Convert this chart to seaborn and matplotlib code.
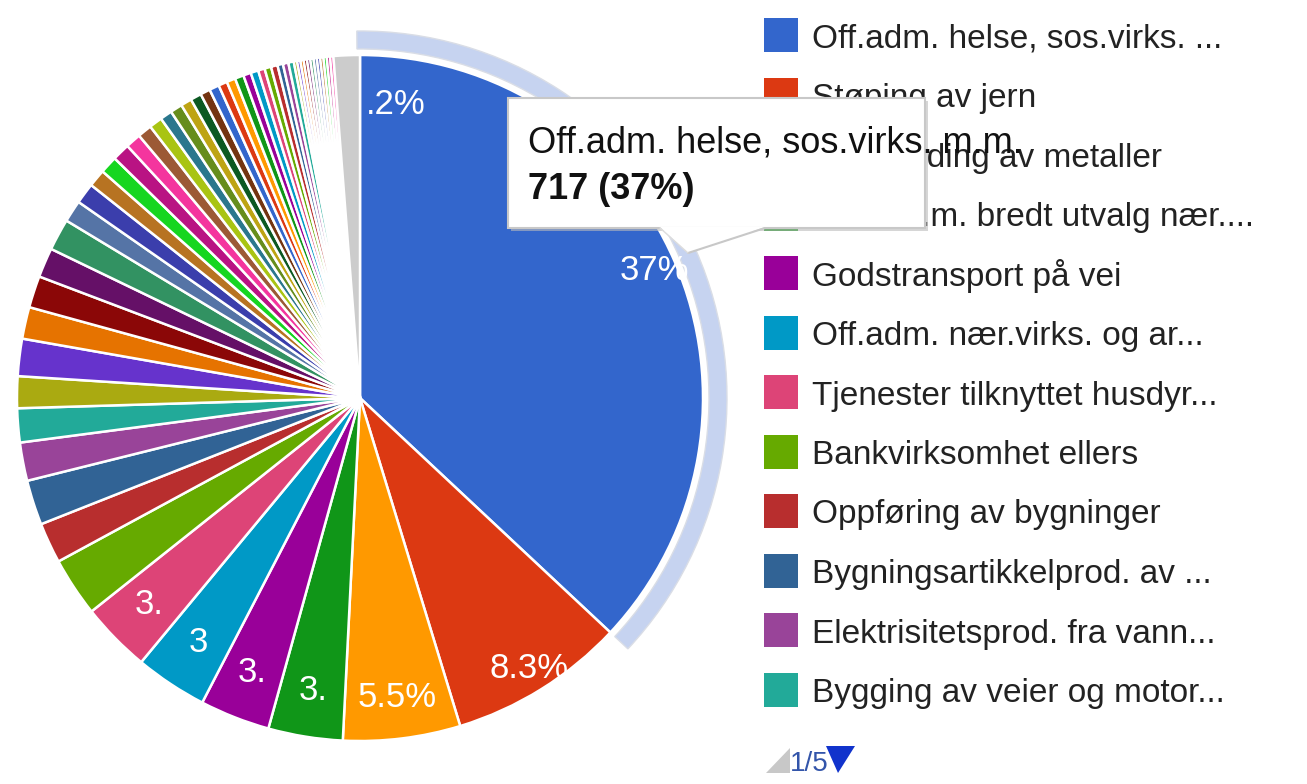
import numpy as np
import matplotlib
matplotlib.use("Agg")
import matplotlib.pyplot as plt
from matplotlib.patches import Wedge, Rectangle, Polygon
import seaborn as sns

# ---------------- data ----------------
slice_values = [717, 161, 107, 68, 64, 66, 64,
                54, 37, 41, 35, 31, 29, 34, 29, 29, 27, 29, 20, 19, 16, 16, 16,
                14, 13, 12, 11, 11, 10, 10, 9, 9, 8, 8, 8, 7, 7, 6, 6, 6, 5, 5, 5,
                3, 3, 3, 3, 3, 3, 3, 3, 3, 3, 3, 3,
                24]
slice_labels = ["37%", "8.3%", "5.5%", "3.", "3.", "3", "3."]
other_label = ".2%"
legend_labels = [
    "Off.adm. helse, sos.virks. ...",
    "Støping av jern",
    "Bearbeiding av metaller",
    "Butikkh.m. bredt utvalg nær....",
    "Godstransport på vei",
    "Off.adm. nær.virks. og ar...",
    "Tjenester tilknyttet husdyr...",
    "Bankvirksomhet ellers",
    "Oppføring av bygninger",
    "Bygningsartikkelprod. av ...",
    "Elektrisitetsprod. fra vann...",
    "Bygging av veier og motor...",
]
tooltip_title = "Off.adm. helse, sos.virks. m.m."
tooltip_value = "717 (37%)"
page_text = "1/5"

google = ["#3366cc", "#dc3912", "#ff9900", "#109618", "#990099", "#0099c6",
          "#dd4477", "#66aa00", "#b82e2e", "#316395", "#994499", "#22aa99",
          "#aaaa11", "#6633cc", "#e67300", "#8b0707", "#651067", "#329262",
          "#5574a6", "#3b3eac", "#b77322", "#16d620", "#b91383", "#f4359e",
          "#9c5935", "#a9c413", "#2a778d", "#668d1c", "#bea413", "#0c5922",
          "#743411"]

# ---------------- style ----------------
sns.set_theme(style="white")
plt.rcParams["font.family"] = ["Liberation Sans", "DejaVu Sans"]

W, H = 1307, 784
fig = plt.figure(figsize=(W / 100, H / 100), dpi=100)
ax = fig.add_axes([0, 0, 1, 1])

def Y(y):
    return H - y

cx, cy, R = 360, Y(398), 343
n = len(slice_values)
palette = sns.color_palette(google, n_colors=len(google))
colors = [palette[i % len(google)] for i in range(n - 1)] + ["#cccccc"]

wedges, _ = ax.pie(slice_values, colors=colors, startangle=90, counterclock=False,
                   radius=R, center=(cx, cy),
                   wedgeprops=dict(edgecolor="white", linewidth=1.8))
ax.set_xlim(0, W)
ax.set_ylim(0, H)
ax.set_aspect("equal")
ax.axis("off")

# hover highlight ring on the first slice
w0 = wedges[0]
ax.add_patch(Wedge((cx, cy), R + 24, w0.theta1, w0.theta2 + 0.5, width=18,
                   facecolor="#c6d3f0", edgecolor="#d9dde6", linewidth=1.0, zorder=3))

# slice labels
label_rfrac = [0.935, 0.93, 0.88, 0.865, 0.86, 0.855, 0.86]
for w, lab, rf in zip(wedges, slice_labels, label_rfrac):
    a = np.deg2rad((w.theta1 + w.theta2) / 2)
    ax.text(cx + rf * R * np.cos(a), cy + rf * R * np.sin(a), lab,
            color="white", fontsize=25, ha="center", va="center", zorder=5)
a = np.deg2rad(w0.theta2)
ax.text(cx + 0.855 * R * np.cos(a) + 6, cy + 0.855 * R * np.sin(a), other_label,
        color="white", fontsize=25, ha="left", va="center", zorder=5)

# legend (page 1)
for i, lab in enumerate(legend_labels):
    yc = 35 + 59.5 * i
    ax.add_patch(Rectangle((764, Y(yc + 17)), 34, 34, facecolor=colors[i],
                           edgecolor="none", zorder=4))
    ax.text(812, Y(yc + 12.5), lab, fontsize=24, color="#222222",
            ha="left", va="baseline", zorder=4)

# pager
ax.add_patch(Polygon([(766, Y(773)), (790, Y(773)), (790, Y(748))],
                     closed=True, facecolor="#c8c8c8", edgecolor="none", zorder=4))
ax.text(790, Y(771), page_text, fontsize=20, color="#3355aa", ha="left",
        va="baseline", zorder=5)
ax.add_patch(Polygon([(826, Y(746)), (855, Y(746)), (838, Y(773))],
                     closed=True, facecolor="#1133cc", edgecolor="none", zorder=4))

# tooltip
bx0, by0, bx1, by1 = 508, 98, 925, 228
ax.add_patch(Rectangle((bx0 + 3, Y(by1 + 3)), bx1 - bx0, by1 - by0,
                       facecolor="#bbbbbb", edgecolor="none", alpha=0.6, zorder=6))
ax.add_patch(Rectangle((bx0, Y(by1)), bx1 - bx0, by1 - by0,
                       facecolor="white", edgecolor="#c8c8c8", linewidth=1.5, zorder=7))
ax.add_patch(Polygon([(660, Y(by1 - 1)), (765, Y(by1 - 1)), (688, Y(253))],
                     closed=True, facecolor="white", edgecolor="none", zorder=7))
ax.plot([688, 765], [Y(253), Y(by1)], color="#c8c8c8", lw=1.5, zorder=7)
ax.plot([660, 688], [Y(by1), Y(253)], color="#dddddd", lw=1.0, zorder=7)
ax.text(528, Y(152), tooltip_title, fontsize=26, color="#111111",
        ha="left", va="baseline", zorder=8)
ax.text(528, Y(199), tooltip_value, fontsize=26, color="#111111",
        fontweight="bold", ha="left", va="baseline", zorder=8)

fig.savefig("out.png", dpi=100, facecolor="white")
